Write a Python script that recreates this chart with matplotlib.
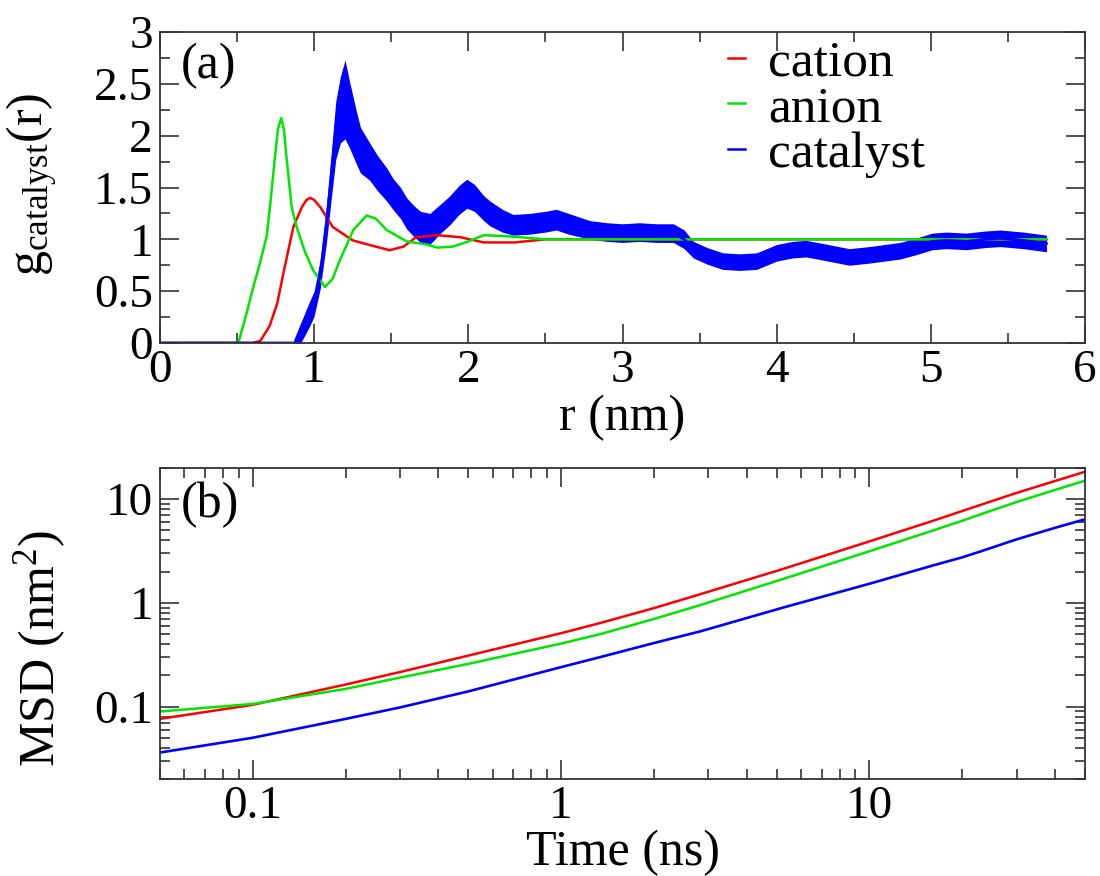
import matplotlib
matplotlib.use("Agg")
import matplotlib.pyplot as plt
from matplotlib.ticker import MultipleLocator, LogLocator, FuncFormatter, NullFormatter

plt.rcParams['font.family'] = ['Liberation Serif', 'DejaVu Serif']
plt.rcParams['mathtext.fontset'] = 'custom'
plt.rcParams['mathtext.rm'] = 'Liberation Serif'
plt.rcParams['mathtext.it'] = 'Liberation Serif:italic'

# ---------------- Panel (a): radial distribution functions ----------------
cation_r = [0.0, 0.60, 0.65, 0.71, 0.76, 0.80, 0.865, 0.92, 0.95, 0.975, 1.0, 1.04, 1.12,
            1.25, 1.36, 1.49, 1.58, 1.66, 1.80, 1.95, 2.10, 2.30, 2.50, 3.0, 4.0, 5.0, 5.75]
cation_g = [0.0, 0.0, 0.02, 0.16, 0.38, 0.67, 1.12, 1.31, 1.38, 1.40, 1.38, 1.31, 1.12,
            0.99, 0.945, 0.895, 0.93, 1.02, 1.04, 1.02, 0.97, 0.97, 1.0, 1.0, 1.0, 1.0, 1.0]

anion_r = [0.0, 0.508, 0.562, 0.605, 0.648, 0.692, 0.713, 0.746, 0.766, 0.786, 0.805,
           0.82, 0.854, 0.886, 0.94, 0.994, 1.07, 1.12, 1.167, 1.254, 1.34, 1.40, 1.47,
           1.60, 1.73, 1.80, 1.90, 2.0, 2.1, 2.25, 2.5, 3.0, 4.0, 5.0, 5.75]
anion_g = [0.0, 0.0, 0.29, 0.54, 0.77, 1.03, 1.31, 1.80, 2.07, 2.17, 2.05,
           1.80, 1.31, 1.12, 0.88, 0.70, 0.54, 0.62, 0.80, 1.09, 1.23, 1.20, 1.09,
           0.98, 0.95, 0.92, 0.93, 0.98, 1.04, 1.03, 1.0, 1.0, 1.0, 1.0, 1.0]

catalyst_r = [0.0, 0.86, 0.87, 0.92, 0.97, 1.0, 1.04, 1.08, 1.11, 1.14, 1.17, 1.20, 1.23,
              1.27, 1.30, 1.36, 1.41, 1.47, 1.51, 1.56, 1.60, 1.65, 1.69, 1.75, 1.82,
              1.88, 1.94, 1.99, 2.04, 2.10, 2.14, 2.22, 2.29, 2.40, 2.50, 2.57, 2.65,
              2.79, 2.90, 3.00, 3.11, 3.22, 3.33, 3.40, 3.46, 3.55, 3.65, 3.76, 3.87,
              4.0, 4.1, 4.19, 4.3, 4.47, 4.6, 4.80, 4.9, 5.01, 5.1, 5.23, 5.35, 5.45,
              5.6, 5.75]
catalyst_g = [0.0, 0.0, -0.03, 0.12, 0.28, 0.38, 0.67, 1.15, 1.6, 2.05, 2.25, 2.35, 2.2,
              2.0, 1.86, 1.75, 1.64, 1.53, 1.44, 1.35, 1.25, 1.17, 1.12, 1.10, 1.20,
              1.28, 1.38, 1.44, 1.40, 1.30, 1.25, 1.18, 1.14, 1.15, 1.17, 1.19, 1.15,
              1.09, 1.07, 1.06, 1.07, 1.06, 1.06, 1.0, 0.90, 0.84, 0.79, 0.78, 0.79,
              0.87, 0.90, 0.91, 0.88, 0.83, 0.85, 0.89, 0.93, 0.98, 0.99, 0.98, 1.0, 1.01,
              0.99, 0.96]
catalyst_spread = [0.0, 0.0, 0.07, 0.1, 0.12, 0.12, 0.14, 0.18, 0.22, 0.28, 0.32, 0.38, 0.32,
                   0.26, 0.22, 0.18, 0.17, 0.16, 0.15, 0.15, 0.15, 0.15, 0.15, 0.15, 0.14,
                   0.14, 0.14, 0.14, 0.13, 0.12, 0.12, 0.11, 0.1, 0.1, 0.1, 0.1, 0.1,
                   0.09, 0.09, 0.09, 0.09, 0.09, 0.09, 0.09, 0.08, 0.08, 0.08, 0.08, 0.08,
                   0.08, 0.08, 0.08, 0.08, 0.08, 0.08, 0.08, 0.08, 0.08, 0.08, 0.08, 0.08,
                   0.08, 0.08, 0.08]

# ---------------- Panel (b): mean square displacement ----------------
time_ns = [0.05, 0.1, 0.2, 0.3, 0.5, 1.0, 1.34, 2.0, 2.82, 5.31, 10.0, 16.1, 20.0, 23.4, 30.0,
           40.0, 50.0]
msd_cation = [0.076, 0.104, 0.163, 0.215, 0.31, 0.51, 0.64, 0.89, 1.21, 2.15, 3.92, 6.2, 7.7,
              9.0, 11.5, 15.0, 18.4]
msd_anion = [0.0895, 0.106, 0.148, 0.19, 0.258, 0.405, 0.50, 0.70, 0.95, 1.72, 3.15, 5.0, 6.2,
             7.3, 9.4, 12.3, 15.1]
msd_catalyst = [0.036, 0.050, 0.076, 0.098, 0.14, 0.24, 0.30, 0.41, 0.53, 0.91, 1.53, 2.3,
                2.75, 3.2, 4.1, 5.3, 6.4]

labels = ['cation', 'anion', 'catalyst']
colors = ['#ff0000', '#00e600', '#0000ff']

fig = plt.figure(figsize=(11, 8.76), dpi=100)
W, H = 1100.0, 876.0
ax1 = fig.add_axes([160 / W, 1 - 343 / H, 925 / W, 311 / H])
ax2 = fig.add_axes([160 / W, 1 - 779 / H, 925 / W, 311 / H])

spine_col = '#333333'
tick_fs = 34
label_fs = 36

# Panel (a)
ax1.plot(cation_r, cation_g, color=colors[0], lw=1.8, label=labels[0])
ax1.plot(anion_r, anion_g, color=colors[1], lw=1.8, label=labels[1])
lo = [g - s for g, s in zip(catalyst_g, catalyst_spread)]
hi = [g + s for g, s in zip(catalyst_g, catalyst_spread)]
ax1.fill_between(catalyst_r, lo, hi, color=colors[2], lw=0)
ax1.plot(catalyst_r, catalyst_g, color=colors[2], lw=2.0, label=labels[2])

ax1.set_xlim(0, 6)
ax1.set_ylim(0, 3)
ax1.xaxis.set_major_locator(MultipleLocator(1))
ax1.xaxis.set_minor_locator(MultipleLocator(0.5))
ax1.yaxis.set_major_locator(MultipleLocator(0.5))
ax1.yaxis.set_minor_locator(MultipleLocator(0.25))
fmt = FuncFormatter(lambda v, p: '%g' % v)
ax1.xaxis.set_major_formatter(fmt)
ax1.yaxis.set_major_formatter(fmt)
ax1.set_xlabel('r (nm)', fontsize=label_fs)
ax1.set_ylabel(r'$\mathrm{g_{catalyst}(r)}$', fontsize=label_fs)
ax1.xaxis.set_label_coords(0.5, -0.165)
ax1.yaxis.set_label_coords(-0.108, 0.51)
ax1.text(0.022, 0.965, '(a)', transform=ax1.transAxes, fontsize=label_fs, va='top', ha='left')
leg = ax1.legend(loc='upper left', bbox_to_anchor=(0.614, 0.975), frameon=False,
                 fontsize=37, handlelength=0.33, handletextpad=0.45, labelspacing=-0.03,
                 borderaxespad=0.0, borderpad=0.0)
for h in leg.get_lines():
    h.set_linewidth(1.8)

# Panel (b)
ax2.plot(time_ns, msd_cation, color=colors[0], lw=1.8)
ax2.plot(time_ns, msd_anion, color=colors[1], lw=1.8)
ax2.plot(time_ns, msd_catalyst, color=colors[2], lw=1.9)
ax2.set_xscale('log')
ax2.set_yscale('log')
ax2.set_xlim(0.05, 50)
ax2.set_ylim(0.02, 20)
for axis in (ax2.xaxis, ax2.yaxis):
    axis.set_major_locator(LogLocator(base=10, numticks=10))
    axis.set_minor_locator(LogLocator(base=10, subs=range(2, 10), numticks=20))
    axis.set_major_formatter(fmt)
    axis.set_minor_formatter(NullFormatter())
ax2.set_xlabel('Time (ns)', fontsize=label_fs)
ax2.set_ylabel(r'MSD (nm$^{2}$)', fontsize=label_fs)
ax2.xaxis.set_label_coords(0.5, -0.163)
ax2.yaxis.set_label_coords(-0.100, 0.42)
ax2.text(0.022, 0.955, '(b)', transform=ax2.transAxes, fontsize=label_fs, va='top', ha='left')

for ax in (ax1, ax2):
    for sp in ax.spines.values():
        sp.set_color(spine_col)
        sp.set_linewidth(1.3)
    ax.tick_params(which='both', direction='in', top=True, right=True,
                   color=spine_col, width=1.2, labelsize=tick_fs)
    ax.tick_params(which='major', length=13.5, pad=5)
    ax.tick_params(which='minor', length=7)

fig.savefig('out.png', dpi=100)
